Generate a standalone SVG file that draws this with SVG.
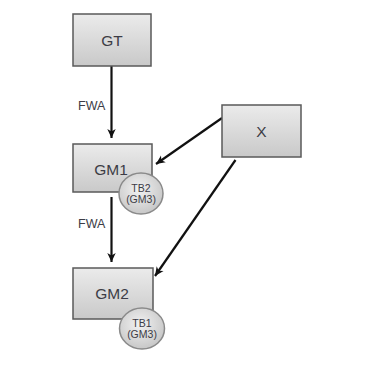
<svg xmlns="http://www.w3.org/2000/svg" width="367" height="365" viewBox="0 0 367 365">
<defs>
<linearGradient id="boxg" x1="0" y1="0" x2="0" y2="1">
<stop offset="0" stop-color="#ebebeb"/>
<stop offset="1" stop-color="#c9c9c9"/>
</linearGradient>
<radialGradient id="circg" cx="0.45" cy="0.4" r="0.65">
<stop offset="0" stop-color="#f2f2f2"/>
<stop offset="1" stop-color="#c4c4c4"/>
</radialGradient>
<marker id="arr" markerWidth="10" markerHeight="10" refX="9" refY="5" orient="auto" markerUnits="userSpaceOnUse">
<path d="M0,0.8 L9,5 L0,9.2 L2.5,5 Z" fill="#111"/>
</marker>
</defs>
<style>
.box{fill:url(#boxg);stroke:#5a5a5a;stroke-width:1.5}
.circ{fill:url(#circg);stroke:#8a8a8a;stroke-width:1.5}
.lbl{font-family:"Liberation Sans",Arial,sans-serif;font-size:15.5px;fill:#3c3c46;text-anchor:middle}
.sm{font-family:"Liberation Sans",Arial,sans-serif;font-size:10.5px;fill:#3c3c46;text-anchor:middle}
.edge{font-family:"Liberation Sans",Arial,sans-serif;font-size:12.5px;fill:#3c3c46}
.conn{stroke:#111;stroke-width:2.2;fill:none;marker-end:url(#arr)}
</style>
<rect width="367" height="365" fill="#fff"/>
<g id="connectors">
<line class="conn" x1="111.5" y1="66" x2="111.5" y2="138"/>
<line class="conn" x1="111.5" y1="197" x2="111.5" y2="262"/>
<line class="conn" x1="222" y1="118" x2="156" y2="164"/>
<line class="conn" x1="235.5" y1="160" x2="155" y2="276"/>
<text class="edge" x="78" y="110">FWA</text>
<text class="edge" x="78" y="228">FWA</text>
</g>
<g id="GT">
<rect class="box" x="73" y="14" width="78" height="52"/>
<text class="lbl" x="112" y="45.5">GT</text>
</g>
<g id="X">
<rect class="box" x="222" y="105" width="79" height="52"/>
<text class="lbl" x="261.5" y="136.5">X</text>
</g>
<g id="GM1">
<rect class="box" x="73" y="144" width="79" height="48"/>
<text class="lbl" x="111" y="174.5">GM1</text>
</g>
<g id="TB2">
<ellipse class="circ" cx="141" cy="193.5" rx="22" ry="20.5"/>
<text class="sm" x="141" y="192">TB2</text>
<text class="sm" x="141" y="203">(GM3)</text>
</g>
<g id="GM2">
<rect class="box" x="73" y="268" width="80" height="51"/>
<text class="lbl" x="112" y="298.5">GM2</text>
</g>
<g id="TB1">
<ellipse class="circ" cx="142" cy="328.5" rx="22.5" ry="20.5"/>
<text class="sm" x="142" y="327">TB1</text>
<text class="sm" x="142" y="338">(GM3)</text>
</g>
</svg>
